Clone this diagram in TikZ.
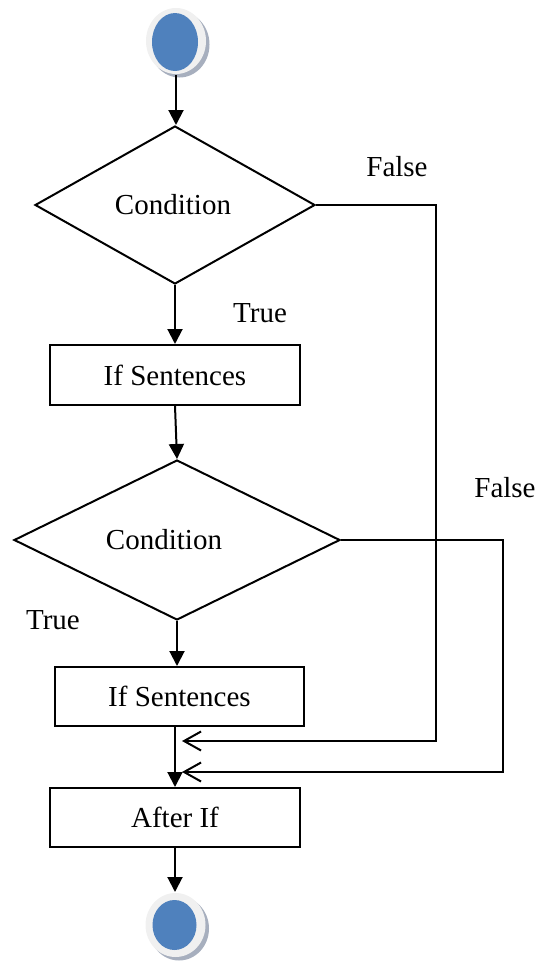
\documentclass[tikz,border=0pt]{standalone}
\usepackage{fontspec}
\setmainfont{Liberation Serif}
\usetikzlibrary{shapes.geometric,arrows.meta}
\definecolor{termblue}{HTML}{4F81BD}
\definecolor{termring}{HTML}{F0F0F0}
\definecolor{termshadow}{HTML}{A7AFBE}
\begin{document}
\begin{tikzpicture}[x=1pt,y=-1pt,line width=2pt,
  txt/.style={font=\fontsize{29}{34}\selectfont},
  flow/.style={-{Triangle[length=15pt,width=15pt]}},
  back/.style={-{Straight Barb[length=17pt,width=19pt,line width=2pt]}},
  stepbox/.style={draw,rectangle,inner sep=0pt,txt},
  decision/.style={draw,diamond,inner sep=0pt},
  lbl/.style={inner sep=0pt,txt},
  ring/.style={ellipse,fill=termring,inner sep=0pt},
]
\useasboundingbox (0,0) rectangle (541,962);

% start terminator
\fill[termshadow] (179.5,44.5) ellipse [x radius=30pt, y radius=33pt];
\node[ring,minimum width=60pt,minimum height=66pt] (start) at (176,41) {};
\fill[termblue] (175,42) ellipse [x radius=23pt, y radius=29pt];

% first decision
\node[decision,minimum width=280pt,minimum height=158pt] (cond1) at (175,205) {};
\node[lbl] (cond1text) at (173,205) {Condition};

% first branch body
\node[stepbox,minimum width=250pt,minimum height=60pt] (box1) at (175,375) {If Sentences};

% second decision
\node[decision,minimum width=326pt,minimum height=160pt] (cond2) at (177,540) {};
\node[lbl] (cond2text) at (164,540) {Condition};

% second branch body
\node[stepbox,minimum width=249pt,minimum height=59pt] (box2) at (179.5,696.5) {If Sentences};

% join
\node[stepbox,minimum width=250pt,minimum height=59pt] (box3) at (175,817.5) {After If};

% end terminator
\fill[termshadow] (179,928.5) ellipse [x radius=30pt, y radius=32pt];
\node[ring,minimum width=60pt,minimum height=64pt] (stop) at (175.5,925) {};
\fill[termblue] (174.5,925) ellipse [x radius=22pt, y radius=25pt];

% merge points and side lanes
\coordinate (m1) at (182,741);
\coordinate (m2) at (182,772);
\coordinate (lane1) at (436,0);
\coordinate (lane2) at (503,0);

% main flow
\draw[flow] (start.south) -- (start.south |- cond1.north);
\draw[flow] (cond1.south) -- (cond1.south |- box1.north);
\draw[flow] (box1.south) -- (cond2.north);
\draw[flow] (cond2.south) -- (cond2.south |- box2.north);
\draw[flow] (box2.south -| box3.north) -- (box3.north);
\draw[flow] (box3.south) -- (box3.south |- stop.north);

% false branches
\draw[back] (cond1.east) -- (cond1.east -| lane1) |- (m1);
\draw[back] (cond2.east) -- (cond2.east -| lane2) |- (m2);

% branch labels
\node[lbl] (f1) at (397,167) {False};
\node[lbl] (t1) at (260,313) {True};
\node[lbl] (f2) at (505,488) {False};
\node[lbl] (t2) at (53,620) {True};
\end{tikzpicture}
\end{document}
